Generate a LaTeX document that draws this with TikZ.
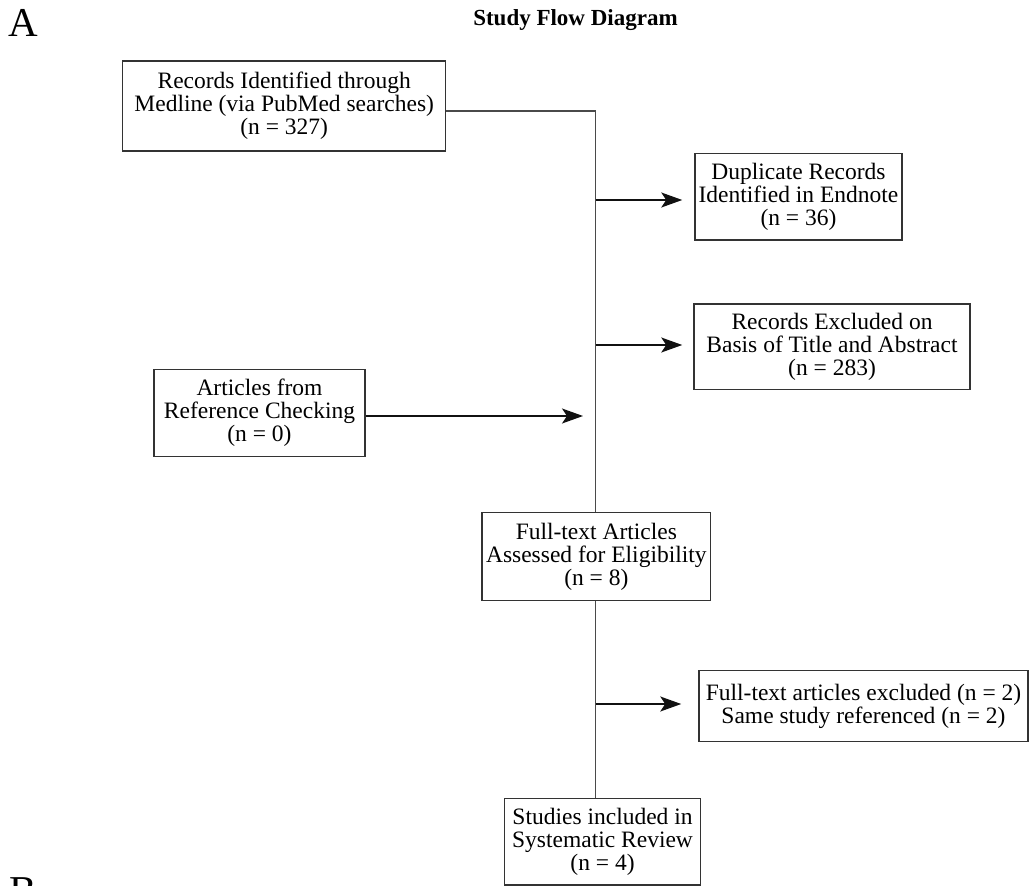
\documentclass[tikz,border=0pt]{standalone}
\usepackage{fontspec}
\setmainfont{Liberation Serif}
\usetikzlibrary{arrows.meta}
\definecolor{boxc}{HTML}{333333}
\definecolor{linec}{HTML}{4A4A4A}
\definecolor{arrc}{HTML}{111111}
\begin{document}
\begin{tikzpicture}[x=1pt,y=-1pt,
  flowbox/.style={draw=boxc, line width=1.5pt, inner sep=0pt, align=center,
    font=\fontsize{23.5}{23}\selectfont, text=black},
  conn/.style={draw=linec, line width=1.3pt},
  arr/.style={draw=arrc, line width=1.6pt, -{Stealth[length=21pt,width=15pt,inset=5pt]}}]
\useasboundingbox[fill=white] (0,0) rectangle (1029,886);

\node[anchor=north west, inner sep=0pt, font=\fontsize{41}{41}\selectfont] (lblA) at (8,9) {A};
\begin{scope}
  \clip (0,0) rectangle (1029,886);
  \node[anchor=north west, inner sep=0pt, font=\fontsize{41}{41}\selectfont] (lblB) at (9,877) {B};
\end{scope}
\node[anchor=base, inner sep=0pt, font=\fontsize{23}{23}\selectfont\bfseries] (title) at (575.5,25) {Study Flow Diagram};

\node[flowbox, minimum width=323pt, minimum height=90pt] (rec) at (284.2,105.8)
  {Records Identified through\\Medline (via PubMed searches)\\(n = 327)};
\node[flowbox, minimum width=207pt, minimum height=86.7pt] (dup) at (798.5,196.7)
  {Duplicate Records\\Identified in Endnote\\(n = 36)};
\node[flowbox, minimum width=276pt, minimum height=85.3pt] (excl) at (832,346.65)
  {Records Excluded on\\Basis of Title and Abstract\\(n = 283)};
\node[flowbox, minimum width=211pt, minimum height=87.4pt] (art) at (259.5,413)
  {Articles from\\Reference Checking\\(n = 0)};
\node[flowbox, minimum width=228.7pt, minimum height=88pt] (ft) at (596.35,556.7)
  {Full-text Articles\\Assessed for Eligibility\\(n = 8)};
\node[flowbox, minimum width=329pt, minimum height=71pt] (ftx) at (863.5,706.2)
  {Full-text articles excluded (n = 2)\\Same study referenced (n = 2)};
\node[flowbox, minimum width=196.1pt, minimum height=86.3pt] (stu) at (602.55,841.85)
  {Studies included in\\Systematic Review\\(n = 4)};

\coordinate (tA) at (595.5,111);
\coordinate (j1) at (595.5,200);
\coordinate (j2) at (595.5,345);
\coordinate (j3) at (595.5,416);
\coordinate (j4) at (595.5,704);

\draw[conn] (rec.east |- tA) -- (tA) -- (tA |- ft.north);
\draw[conn] (tA |- ft.south) -- (tA |- stu.north);
\draw[arr, shorten >=12pt] (j1) -- (j1 -| dup.west);
\draw[arr, shorten >=11pt] (j2) -- (j2 -| excl.west);
\draw[arr, shorten >=12.5pt] (art.east |- j3) -- (j3);
\draw[arr, shorten >=17pt] (j4) -- (j4 -| ftx.west);
\end{tikzpicture}
\end{document}
